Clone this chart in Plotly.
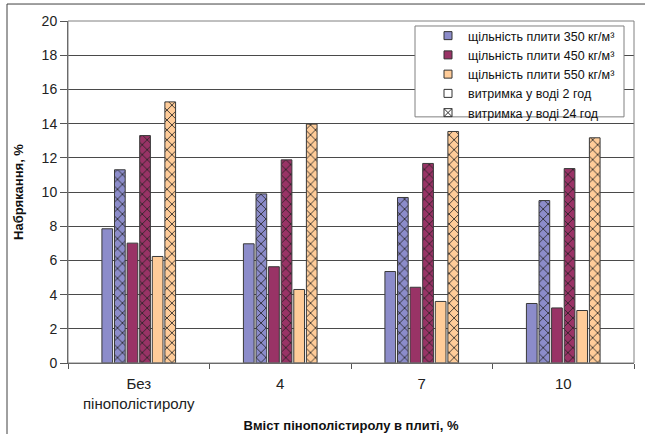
import plotly.graph_objects as go

categories = ["Без<br>пінополістиролу", "4", "7", "10"]

d350_2h = [7.85, 6.97, 5.35, 3.48]
d350_24h = [11.30, 9.89, 9.68, 9.50]
d450_2h = [7.01, 5.63, 4.43, 3.22]
d450_24h = [13.30, 11.88, 11.67, 11.37]
d550_2h = [6.23, 4.30, 3.60, 3.07]
d550_24h = [15.27, 13.97, 13.54, 13.17]

legend_names = [
    "щільність плити 350 кг/м³",
    "щільність плити 450 кг/м³",
    "щільність плити 550 кг/м³",
    "витримка у воді 2 год",
    "витримка у воді 24 год",
]

c350 = "#8C8CCA"
c450 = "#993366"
c550 = "#FFCC99"
outline = "#3a3a3a"
FONT = "Liberation Sans, Arial, sans-serif"

# plot-area pixel geometry helpers (paper fractions)
PL, PR, PT, PB = 68, 634, 21, 363.5
def px(x):
    return (x - PL) / (PR - PL)
def py(y):
    return (PB - y) / (PB - PT)

fig = go.Figure()

series = [
    (d350_2h, c350, False),
    (d350_24h, c350, True),
    (d450_2h, c450, False),
    (d450_24h, c450, True),
    (d550_2h, c550, False),
    (d550_24h, c550, True),
]
for vals, col, hatched in series:
    marker = dict(color=col, line=dict(color=outline, width=1))
    if hatched:
        marker["pattern"] = dict(shape="x", fgcolor="#222222", bgcolor=col,
                                 size=7, solidity=0.22, fillmode="replace")
    fig.add_trace(go.Bar(x=categories, y=vals, marker=marker, showlegend=False,
                         hoverinfo="skip"))

# legend entries
leg_styles = [
    dict(symbol="square", color=c350),
    dict(symbol="square", color=c450),
    dict(symbol="square", color=c550),
    dict(symbol="square", color="white"),
    dict(symbol="square-x", color="white"),
]
for name, st in zip(legend_names, leg_styles):
    fig.add_trace(go.Scatter(
        x=[None], y=[None], mode="markers", name=name,
        marker=dict(symbol=st["symbol"], color=st["color"], size=8,
                    line=dict(color="#333333", width=1)),
    ))

fig.update_layout(
    width=645, height=434,
    margin=dict(l=PL, r=645 - PR, t=PT, b=434 - PB),
    paper_bgcolor="white", plot_bgcolor="white",
    barmode="group", bargap=0.466, bargroupgap=0.15,
    font=dict(family=FONT, size=12, color="#222222"),
    showlegend=True,
    legend=dict(
        x=px(428), y=py(21), xanchor="left", yanchor="top",
        bgcolor="rgba(0,0,0,0)", borderwidth=0,
        font=dict(family=FONT, size=12.5, color="#111111"),
        itemwidth=30, tracegroupgap=0,
    ),
    xaxis=dict(
        type="category", showgrid=False, showline=True, linecolor="#555555",
        ticks="outside", tickson="boundaries", ticklen=5, tickcolor="#555555",
        tickfont=dict(size=15, color="#222222"), ticklabelstandoff=7,
        automargin=False,
        title=dict(text="<b>Вміст пінополістиролу в плиті, %</b>",
                   font=dict(size=13, color="#111111"), standoff=10),
    ),
    yaxis=dict(
        range=[0, 20], dtick=2, showgrid=True, gridcolor="#4a4a4a", gridwidth=1,
        showline=True, linecolor="#555555", ticks="outside", ticklen=7,
        tickcolor="#555555", tickfont=dict(size=14, color="#222222"),
        zeroline=False, automargin=False,
        title=dict(text="<b>Набрякання, %</b>",
                   font=dict(size=13, color="#111111"), standoff=15),
    ),
    shapes=[
        dict(type="rect", xref="paper", yref="paper", x0=0, x1=1, y0=0, y1=1,
             line=dict(color="#808080", width=1), layer="above"),
        dict(type="rect", xref="paper", yref="paper",
             x0=px(415), x1=px(624), y0=py(117), y1=py(26),
             fillcolor="white", line=dict(color="#808080", width=1),
             layer="above"),
        dict(type="rect", xref="paper", yref="paper",
             x0=px(7), x1=px(650), y0=py(440), y1=py(4),
             line=dict(color="#404040", width=1)),
    ],
)

fig.write_html("out.html", config={"displayModeBar": False},
               post_script="document.body.style.margin='0';")
